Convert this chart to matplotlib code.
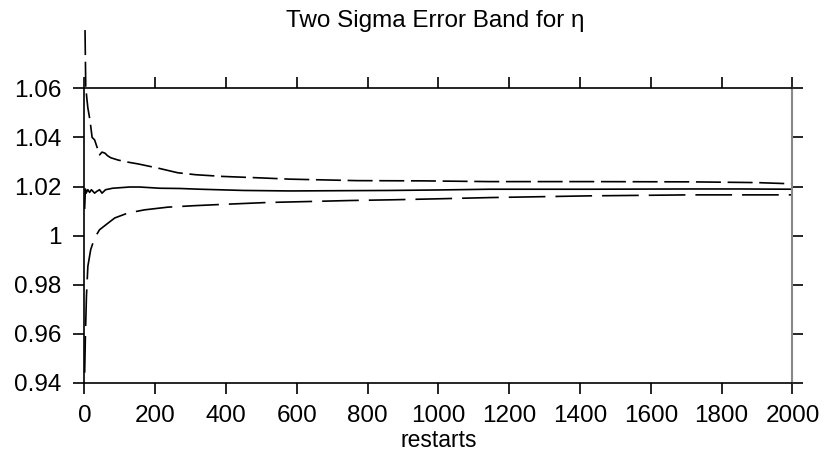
import matplotlib
matplotlib.use("Agg")
import matplotlib.pyplot as plt

plt.rcParams['font.family'] = ['Liberation Sans', 'DejaVu Sans']

# Mean estimate of eta
mid_x = [1, 3, 5, 10, 15, 20, 29, 35, 43, 50, 60, 80, 128, 156, 213, 270, 326,
         450, 581, 720, 863, 1000, 1146, 1428, 1711, 1850, 2000]
mid_y = [1.0112, 1.0190, 1.0173, 1.0187, 1.0176, 1.0187, 1.0173, 1.0180, 1.0187,
         1.0173, 1.0187, 1.0193, 1.0198, 1.0198, 1.0193, 1.0192, 1.0189,
         1.0184, 1.0182, 1.0183, 1.0184, 1.0186, 1.0189, 1.0189, 1.0190, 1.0190, 1.0189]

# Upper two-sigma bound
up_x = [2, 4, 7, 10, 13, 16, 22, 29, 36, 43, 50, 58, 66, 75, 95, 120, 152, 208,
        264, 315, 392, 500, 581, 769, 957, 1146, 1428, 1711, 1898, 2000]
up_y = [1.0837, 1.0610, 1.0560, 1.0520, 1.0495, 1.0470, 1.0400, 1.0390, 1.0360,
        1.0329, 1.0340, 1.0336, 1.0325, 1.0317, 1.0308, 1.0300, 1.0292, 1.0275,
        1.0256, 1.0248, 1.0241, 1.0235, 1.0230, 1.0224, 1.0223, 1.0220, 1.0220,
        1.0219, 1.0216, 1.0211]

# Lower two-sigma bound
lo_x = [1, 3, 6, 10, 18, 29, 43, 67, 86, 123, 170, 236, 311, 402, 518, 637, 750,
        872, 1000, 1146, 1428, 1711, 2000]
lo_y = [0.9442, 0.9590, 0.9753, 0.9875, 0.9943, 0.9990, 1.0024, 1.0051, 1.0072,
        1.0092, 1.0105, 1.0116, 1.0122, 1.0128, 1.0135, 1.0139, 1.0143, 1.0146,
        1.0150, 1.0155, 1.0162, 1.0166, 1.0166]

xticks = [0, 200, 400, 600, 800, 1000, 1200, 1400, 1600, 1800, 2000]
yticks = [0.94, 0.96, 0.98, 1.00, 1.02, 1.04, 1.06]
ytick_labels = ['0.94', '0.96', '0.98', '1', '1.02', '1.04', '1.06']

fig = plt.figure(figsize=(8.25, 4.61), dpi=100)
ax = fig.add_axes([0.1022, 0.1692, 0.8584, 0.6393])

lw = 1.2
ax.plot(mid_x, mid_y, color='black', lw=lw, solid_joinstyle='round')
ax.plot(up_x, up_y, color='black', lw=lw, linestyle=(0, (15, 4)), clip_on=False)
ax.plot(lo_x, lo_y, color='black', lw=lw, linestyle=(0, (22, 6)), clip_on=False)

ax.set_xlim(0, 2000)
ax.set_ylim(0.94, 1.06)
ax.set_xticks(xticks)
ax.set_xticklabels([str(t) for t in xticks])
ax.set_yticks(yticks)
ax.set_yticklabels(ytick_labels)

ax.tick_params(axis='both', which='both', direction='out', length=8, width=1.2,
               labelsize=17.5, color='black')
ax.tick_params(axis='x', top=True, pad=8)
ax.tick_params(axis='y', right=True, pad=8.5)

for s in ['left', 'bottom', 'top']:
    ax.spines[s].set_linewidth(1.2)
    ax.spines[s].set_color('black')
ax.spines['right'].set_linewidth(1.5)
ax.spines['right'].set_color('#888888')

fig.text(0.5317, 1 - 447 / 461, 'restarts', fontsize=16.5,
         ha='center', va='baseline')
fig.text(0.527, 1 - 27 / 461, 'Two Sigma Error Band for η', fontsize=17.5,
         ha='center', va='baseline')

fig.savefig('out.png', dpi=100)
